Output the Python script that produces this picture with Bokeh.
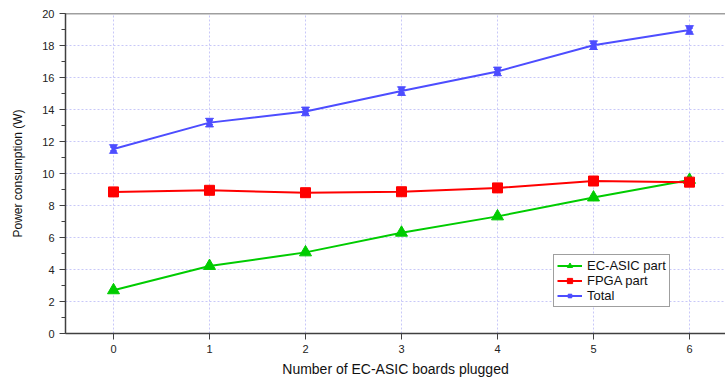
from bokeh.plotting import figure
from bokeh.models import Range1d, Legend, LegendItem, Span, FixedTicker
from bokeh.embed import file_html
from bokeh.resources import INLINE

boards = [0, 1, 2, 3, 4, 5, 6]
ec_asic = [2.7, 4.22, 5.07, 6.3, 7.32, 8.5, 9.6]
fpga = [8.85, 8.95, 8.8, 8.86, 9.1, 9.53, 9.46]
total = [11.53, 13.18, 13.88, 15.15, 16.38, 18.02, 18.97]
y_ticks = [0, 2, 4, 6, 8, 10, 12, 14, 16, 18, 20]
y_minor = list(range(0, 21))

GREEN = "#00cc00"
RED = "#ff0000"
BLUE = "#4d4dff"
FONT = "Liberation Sans"

p = figure(width=725, height=381, output_backend="svg", toolbar_location=None,
           x_range=Range1d(-0.5, -0.5 + 660 / 96), y_range=Range1d(0, 20),
           min_border_left=65, min_border_top=13, min_border_bottom=48, min_border_right=0)
p.outline_line_color = None
p.background_fill_color = "white"

for g in (p.xgrid, p.ygrid):
    g.grid_line_color = "#c8c8f8"
    g.grid_line_dash = "2 2"
    g.grid_line_width = 1
p.xaxis.ticker = FixedTicker(ticks=boards)
p.yaxis.ticker = FixedTicker(ticks=y_ticks, minor_ticks=y_minor)
p.xgrid.ticker = FixedTicker(ticks=boards)
p.ygrid.ticker = FixedTicker(ticks=y_ticks)

for ax in (p.xaxis, p.yaxis):
    ax.axis_line_color = "#404040"
    ax.axis_line_width = 1.5
    ax.major_tick_line_color = "#404040"
    ax.minor_tick_line_color = "#404040"
    ax.major_tick_in = 0
    ax.minor_tick_in = 0
    ax.major_tick_out = 6
    ax.minor_tick_out = 4
    ax.major_label_text_font = FONT
    ax.major_label_text_font_size = "11px"
    ax.major_label_text_color = "#222222"
    ax.axis_label_text_font = FONT
    ax.axis_label_text_font_style = "normal"
    ax.axis_label_text_color = "#111111"
p.xaxis.axis_label_text_font_size = "14px"
p.yaxis.axis_label_text_font_size = "12px"
p.xaxis.minor_tick_line_color = None
p.xaxis.major_label_standoff = 5
p.xaxis.axis_label_standoff = 5
p.yaxis.major_label_standoff = 5
p.yaxis.axis_label_standoff = 14
p.xaxis.axis_label = "Number of EC-ASIC boards plugged"
p.yaxis.axis_label = "Power consumption (W)"

p.add_layout(Span(location=20, dimension="width", line_color="#404040", line_width=1.5))

# series
l1 = p.line(boards, ec_asic, line_color=GREEN, line_width=2)
m1 = p.scatter(boards, ec_asic, marker="triangle", size=12, fill_color=GREEN, line_color=GREEN)
l2 = p.line(boards, fpga, line_color=RED, line_width=2)
m2 = p.scatter(boards, fpga, marker="square", size=10, fill_color=RED, line_color=RED)
l3 = p.line(boards, total, line_color=BLUE, line_width=2)
m3 = p.scatter(boards, total, marker="x", size=8, line_color=BLUE, line_width=2.5)

# hourglass markers for Total, built from data values
dx, dy = 0.042, 0.27
xs = [[b - dx, b + dx, b - dx, b + dx] for b in boards]
ys = [[t + dy, t + dy, t - dy, t - dy] for t in total]
p.patches(xs, ys, fill_color=BLUE, line_color=BLUE, line_width=1)

legend = Legend(items=[
    LegendItem(label="EC-ASIC part", renderers=[l1, m1]),
    LegendItem(label="FPGA part", renderers=[l2, m2]),
    LegendItem(label="Total", renderers=[l3, m3]),
], location=(488, 26))
legend.label_text_font = FONT
legend.label_text_font_size = "13px"
legend.label_text_color = "#111111"
legend.glyph_width = 25
legend.glyph_height = 13
legend.label_height = 13
legend.spacing = 0
legend.padding = 3
legend.margin = 0
legend.label_standoff = 5
legend.border_line_color = "#404040"
legend.border_line_width = 1.2
legend.background_fill_alpha = 1
p.add_layout(legend)

open("out.html", "w").write(file_html(p, INLINE))
